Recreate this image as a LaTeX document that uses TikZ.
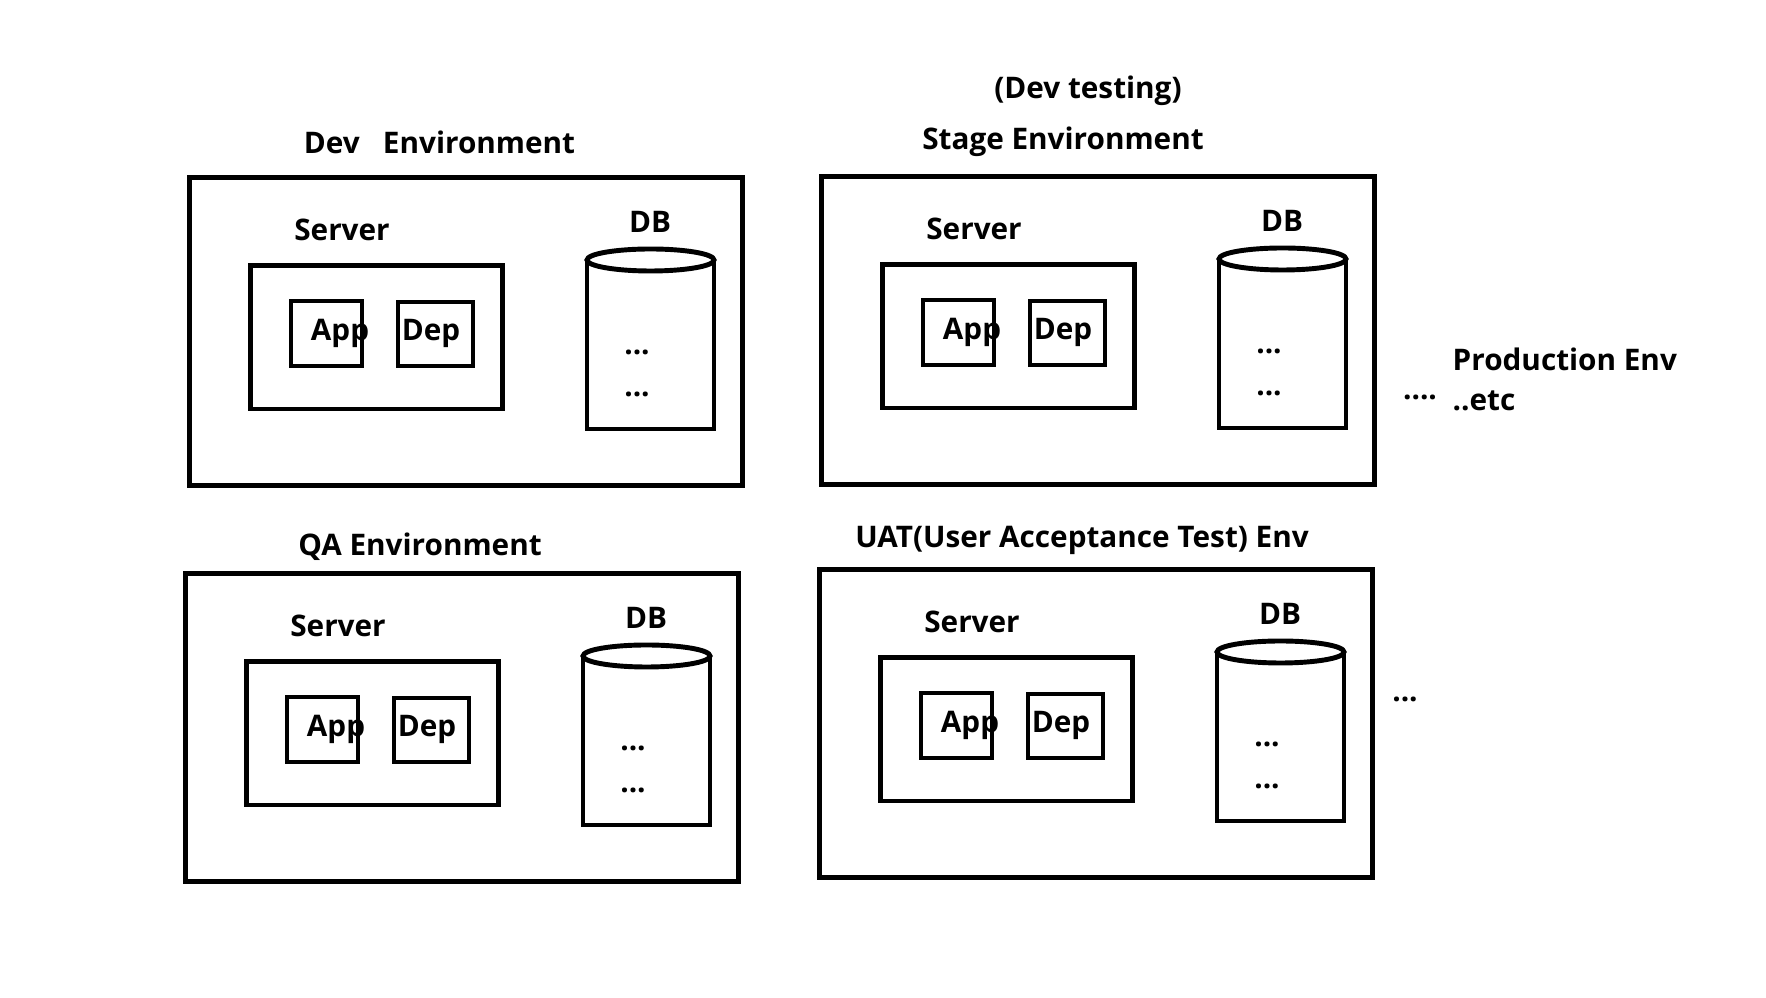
\documentclass[tikz,border=0pt]{standalone}
\usepackage{fontspec}
\setmainfont{Open Sans}
\usepackage{tikz}
\usetikzlibrary{positioning}

\tikzset{
  envbox/.style={draw, line width=1.4pt, minimum width=5.52cm, minimum height=3.07cm, inner sep=0pt},
  srvbox/.style={draw, line width=1.4pt, minimum width=2.51cm, minimum height=1.43cm, inner sep=0pt},
  appbox/.style={draw, line width=1.4pt, minimum width=0.71cm, minimum height=0.65cm, inner sep=0pt},
  depbox/.style={draw, line width=1.4pt, minimum width=0.75cm, minimum height=0.64cm, inner sep=0pt},
  lbl/.style={font=\fontsize{8.45}{10}\selectfont\bfseries, inner sep=0pt},
  dotlbl/.style={font=\fontsize{8.45}{10}\selectfont\bfseries, inner sep=0pt, anchor=base},
  dbline/.style={line width=1.4pt},
}

\newcommand{\envblock}[2]{%
  \begin{scope}[shift={#2}]
    \node[envbox] (#1-env) at (276,153.5) {};
    \node[srvbox] (#1-srv) at (186.5,159.5) {};
    \node[appbox] (#1-app) at (136.5,155.5) {};
    \node[depbox] (#1-dep) at (245.5,156) {};
    \node[lbl] (#1-apptxt) at (150,155) {App};
    \node[lbl] (#1-deptxt) at (241,155) {Dep};
    \node[lbl] (#1-srvtxt) at (152,52) {Server};
    \node[lbl] (#1-dbtxt) at (460,44) {DB};
    \draw[dbline] (397,82) -- (397,251) -- (524,251) -- (524,82);
    \draw[dbline, fill=white] (460.5,82) ellipse [x radius=63.5, y radius=11];
    \node[dotlbl] (#1-dots1) at (447,177) {...};
    \node[dotlbl] (#1-dots2) at (447,219) {...};
  \end{scope}}

\begin{document}
\begin{tikzpicture}[x=0.01cm, y=-0.01cm]

\fill[white] (0,0) rectangle (1766,998);
\useasboundingbox (0,0) rectangle (1766,998);

\envblock{dev}{(190,178)}
\envblock{stage}{(822,177)}
\envblock{qa}{(186,574)}
\envblock{uat}{(820,570)}

\node[lbl] (devtitle) at (439.5,142) {Dev~~~Environment};
\node[lbl] (stagenote) at (1088,91) {(Dev testing)};
\node[lbl] (stagetitle) at (1063,142) {Stage Environment};
\node[lbl] (qatitle) at (420,547) {QA Environment};
\node[lbl] (uattitle) at (1082,540) {UAT(User Acceptance Test) Env};

\node[lbl, anchor=west] (prodtitle) at (1452,359) {Production Env};
\node[lbl, anchor=west] (prodetc) at (1452,401) {..etc};
\node[dotlbl] (proddots) at (1420,400) {....};
\node[dotlbl] (uatdots) at (1405,702) {...};

\end{tikzpicture}
\end{document}
